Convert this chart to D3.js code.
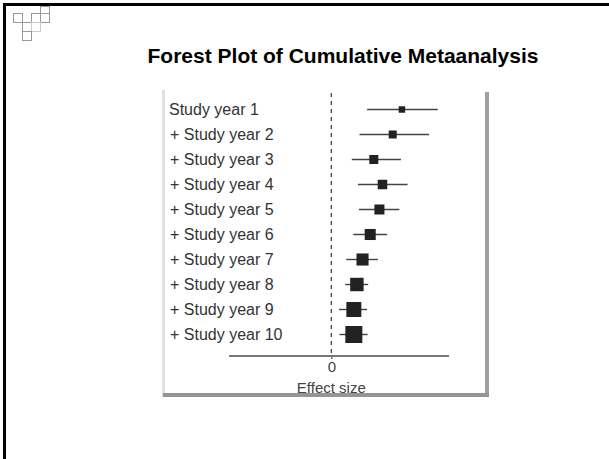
<!DOCTYPE html>
<html>
<head>
<meta charset="utf-8">
<script src="https://cdn.jsdelivr.net/npm/d3@7"></script>
<style>
html,body{margin:0;padding:0;background:#fff;}
svg{display:block;}
</style>
</head>
<body>
<svg id="chart" width="609" height="459"></svg>
<script>
// ---- data ----
const title = "Forest Plot of Cumulative Metaanalysis";
const studies = ["Study year 1", "+ Study year 2", "+ Study year 3", "+ Study year 4", "+ Study year 5",
                 "+ Study year 6", "+ Study year 7", "+ Study year 8", "+ Study year 9", "+ Study year 10"];
const estimates = [1.38, 1.20, 0.83, 1.00, 0.94, 0.76, 0.61, 0.50, 0.44, 0.44];
const lowerCI   = [0.70, 0.55, 0.40, 0.52, 0.54, 0.43, 0.29, 0.27, 0.15, 0.16];
const upperCI   = [2.08, 1.91, 1.36, 1.49, 1.33, 1.09, 0.91, 0.72, 0.70, 0.71];
const weights   = [38, 47, 53, 56, 59, 65, 71, 79, 88, 100];
const xTicks = [0];
const xLabel = "Effect size";

const svg = d3.select("#chart");

// slide frame
svg.append("rect").attr("x", 3).attr("y", 3).attr("width", 606).attr("height", 3).attr("fill", "#000");
svg.append("rect").attr("x", 3).attr("y", 3).attr("width", 3).attr("height", 456).attr("fill", "#000");

// corner decoration
const deco = [[40,6,"#999"],[13,13,"#999"],[31,13,"#999"],[40,13,"#999"],[22,22,"#999"],[31,22,"#ccc"],[22,31,"#999"]];
svg.append("g").selectAll("rect").data(deco).join("rect")
  .attr("x", d => d[0] + 0.5).attr("y", d => d[1] + 0.5)
  .attr("width", 9).attr("height", d => d[1] === 6 ? 7 : 9)
  .attr("fill", "none").attr("stroke", d => d[2]).attr("stroke-width", 1);

// title
svg.append("text").attr("x", 343).attr("y", 63).attr("text-anchor", "middle")
  .attr("font-family", "Liberation Sans, Arial, sans-serif").attr("font-weight", "bold")
  .attr("font-size", 21).attr("fill", "#000").text(title);

// picture frame (shadow)
svg.append("rect").attr("x", 162).attr("y", 90).attr("width", 3).attr("height", 307).attr("fill", "#e2e2e2");
svg.append("rect").attr("x", 485).attr("y", 92).attr("width", 4).attr("height", 305).attr("fill", "#a0a0a0");
svg.append("rect").attr("x", 163).attr("y", 393).attr("width", 326).attr("height", 4).attr("fill", "#959595");

// scales
const x = d3.scaleLinear().domain([-2, 2.3]).range([229, 449]);
const y = d3.scaleBand().domain(studies).range([97, 347]).paddingInner(0);
const s = d3.scaleLinear().domain([0, 100]).range([0, 17]);
const cy = d => y(d) + y.bandwidth() / 2;

// zero line
svg.append("line").attr("x1", x(0)).attr("x2", x(0)).attr("y1", 93).attr("y2", 355)
  .attr("stroke", "#444").attr("stroke-width", 1.3).attr("stroke-dasharray", "4,4");

// axis
const axis = d3.axisBottom(x).tickValues(xTicks).tickSize(3).tickPadding(2).tickFormat(d3.format("d"));
const gAxis = svg.append("g").attr("transform", "translate(0,356)").call(axis);
gAxis.select(".domain").attr("stroke", "#777").attr("stroke-width", 2).attr("d", `M${x.range()[0]},0H${x.range()[1]}`);
gAxis.selectAll(".tick line").attr("stroke", "#777").attr("stroke-width", 1.5);
gAxis.selectAll(".tick text").attr("font-family", "Liberation Sans, Arial, sans-serif").attr("font-size", 15).attr("fill", "#444");

svg.append("text").attr("x", x(0)).attr("y", 393).attr("text-anchor", "middle")
  .attr("font-family", "Liberation Sans, Arial, sans-serif").attr("font-size", 15).attr("fill", "#444").text(xLabel);

// labels
svg.append("g").selectAll("text").data(studies).join("text")
  .attr("x", (d, i) => i === 0 ? 169 : 170).attr("y", d => cy(d) + 5.5)
  .attr("font-family", "Liberation Sans, Arial, sans-serif").attr("font-size", 16).attr("fill", "#333")
  .text(d => d);

// CI lines
svg.append("g").selectAll("line").data(studies).join("line")
  .attr("x1", (d, i) => x(lowerCI[i])).attr("x2", (d, i) => x(upperCI[i]))
  .attr("y1", d => cy(d)).attr("y2", d => cy(d))
  .attr("stroke", "#444").attr("stroke-width", 1.4);

// squares
svg.append("g").selectAll("rect").data(studies).join("rect")
  .attr("x", (d, i) => x(estimates[i]) - s(weights[i]) / 2)
  .attr("y", (d, i) => cy(d) - s(weights[i]) / 2)
  .attr("width", (d, i) => s(weights[i])).attr("height", (d, i) => s(weights[i]))
  .attr("fill", "#222");
</script>
</body>
</html>
